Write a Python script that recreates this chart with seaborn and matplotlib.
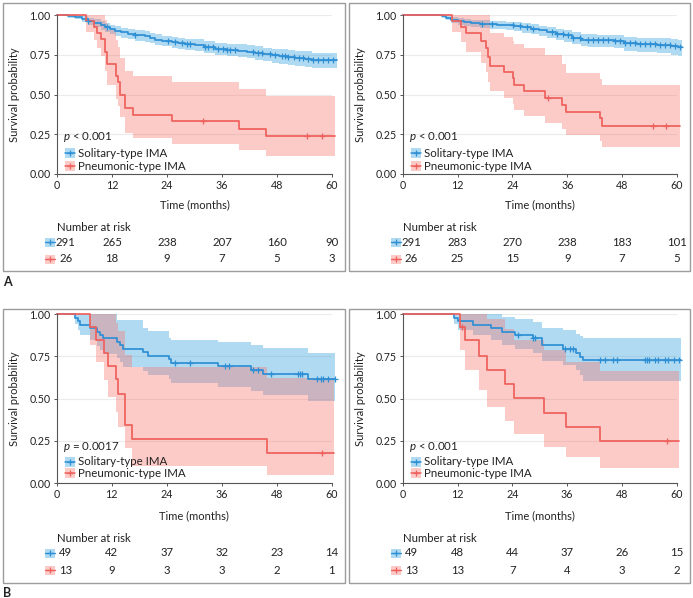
import numpy as np
import pandas as pd
import matplotlib
matplotlib.use("Agg")
import matplotlib.pyplot as plt
import seaborn as sns
from matplotlib.patches import Rectangle
from matplotlib.lines import Line2D
from matplotlib.transforms import blended_transform_factory

# ---------------- data ----------------
GROUPS = ["Solitary-type IMA", "Pneumonic-type IMA"]
RISK_TIMES = [0, 12, 24, 36, 48, 60]
X_TICKS = [0, 12, 24, 36, 48, 60]
Y_TICKS = [0.0, 0.25, 0.50, 0.75, 1.0]
Y_TICK_LABELS = ["0.00", "0.25", "0.50", "0.75", "1.00"]

# Panel A, left
A1_SOL_T = [0, 2.5, 4.0, 5.5, 6.8, 8.0, 9.5, 10.5, 11.5, 12.7, 14.0, 15.5, 17.0, 19.2, 20.3, 21.4, 23.0,
            25.0, 26.5, 28.0, 30.0, 32.0, 34.5, 37.0, 39.5, 41.5, 43.2, 45.0, 46.8, 48.5, 50.4, 52.0, 54.0, 55.6]
A1_SOL_S = [1.0, 0.993, 0.985, 0.975, 0.960, 0.950, 0.935, 0.923, 0.910, 0.897, 0.890, 0.880, 0.872, 0.866,
            0.855, 0.845, 0.838, 0.830, 0.822, 0.815, 0.810, 0.800, 0.788, 0.782, 0.776, 0.770, 0.761, 0.753,
            0.746, 0.740, 0.734, 0.730, 0.725, 0.715]
A1_SOL_HI = [1.0, 1.0, 0.998, 0.993, 0.982, 0.975, 0.962, 0.952, 0.940, 0.928, 0.921, 0.912, 0.904, 0.898,
             0.888, 0.878, 0.871, 0.864, 0.857, 0.851, 0.846, 0.837, 0.826, 0.820, 0.815, 0.810, 0.802, 0.795,
             0.789, 0.784, 0.779, 0.775, 0.771, 0.762]
A1_SOL_LO = [1.0, 0.984, 0.972, 0.957, 0.938, 0.925, 0.908, 0.894, 0.880, 0.866, 0.858, 0.848, 0.839, 0.833,
             0.821, 0.811, 0.803, 0.795, 0.786, 0.778, 0.773, 0.762, 0.749, 0.742, 0.735, 0.728, 0.718, 0.709,
             0.701, 0.694, 0.687, 0.682, 0.676, 0.664]
A1_SOL_CENS = [6.8, 10.8, 17.0, 24.3, 25.8, 27.2, 28.3, 29.0, 32.3, 33.0, 34.1, 35.2, 36.3, 37.0, 37.8, 38.9,
               42.8, 43.9, 44.7, 46.5, 47.6, 49.0, 49.8, 50.5, 51.6, 52.7, 53.7, 54.8, 55.9, 57.0, 58.1, 59.2, 60.3]
A1_SOL_END = 61.0
A1_PNE_T = [0, 6.3, 8.1, 8.7, 9.5, 10.5, 11.0, 12.8, 13.2, 13.8, 14.8, 16.5, 25.0, 39.8, 45.7]
A1_PNE_S = [1.0, 0.962, 0.923, 0.885, 0.846, 0.769, 0.692, 0.615, 0.577, 0.500, 0.415, 0.369, 0.331, 0.285, 0.237]
A1_PNE_HI = [1.0, 1.0, 1.0, 1.0, 1.0, 0.97, 0.905, 0.84, 0.80, 0.73, 0.65, 0.614, 0.577, 0.535, 0.489]
A1_PNE_LO = [1.0, 0.895, 0.84, 0.79, 0.74, 0.65, 0.56, 0.47, 0.43, 0.36, 0.26, 0.224, 0.189, 0.151, 0.115]
A1_PNE_CENS = [31.9, 54.5, 57.8]
A1_PNE_END = 60.6
A1_P = r"$p$ < 0.001"
A1_RISK_SOL = [291, 265, 238, 207, 160, 90]
A1_RISK_PNE = [26, 18, 9, 7, 5, 3]

# Panel A, right
A2_SOL_T = [0, 8.5, 9.5, 10.6, 12.0, 13.4, 15.0, 17.0, 19.0, 20.7, 22.5, 24.3, 26.0, 28.0, 29.8, 31.6, 33.5,
            35.2, 37.0, 38.9, 40.5, 42.6, 46.2, 48.4, 51.3, 55.7, 58.6, 60.3]
A2_SOL_S = [1.0, 0.993, 0.983, 0.971, 0.962, 0.956, 0.950, 0.945, 0.942, 0.939, 0.934, 0.929, 0.922, 0.914,
            0.904, 0.893, 0.882, 0.872, 0.858, 0.845, 0.843, 0.841, 0.839, 0.824, 0.818, 0.813, 0.803, 0.797]
A2_SOL_HI = [1.0, 0.998, 0.993, 0.985, 0.980, 0.976, 0.971, 0.967, 0.965, 0.963, 0.959, 0.955, 0.949, 0.942,
             0.933, 0.923, 0.913, 0.904, 0.891, 0.879, 0.878, 0.877, 0.876, 0.863, 0.858, 0.854, 0.846, 0.841]
A2_SOL_LO = [1.0, 0.983, 0.968, 0.951, 0.940, 0.932, 0.924, 0.918, 0.914, 0.910, 0.904, 0.898, 0.889, 0.879,
             0.868, 0.856, 0.844, 0.832, 0.817, 0.802, 0.799, 0.796, 0.793, 0.776, 0.768, 0.762, 0.750, 0.743]
A2_SOL_CENS = [17.3, 19.5, 24.2, 25.7, 27.1, 28.6, 32.6, 33.7, 35.1, 36.2, 37.3, 38.8, 40.6, 41.7, 42.8, 43.9,
               45.0, 46.4, 47.5, 48.6, 49.7, 50.8, 51.9, 53.0, 54.1, 55.2, 56.3, 57.4, 58.5, 59.6, 60.7]
A2_SOL_END = 61.0
A2_PNE_T = [0, 10.8, 12.7, 13.9, 17.1, 18.2, 18.6, 19.0, 22.2, 24.1, 24.4, 26.6, 31.2, 34.8, 35.7, 43.2, 43.6]
A2_PNE_S = [1.0, 0.962, 0.922, 0.884, 0.838, 0.790, 0.737, 0.680, 0.643, 0.601, 0.560, 0.522, 0.480, 0.434,
            0.388, 0.350, 0.304]
A2_PNE_HI = [1.0, 1.0, 1.0, 1.0, 1.0, 1.0, 1.0, 0.885, 0.86, 0.835, 0.815, 0.79, 0.75, 0.69, 0.635, 0.60, 0.557]
A2_PNE_LO = [1.0, 0.89, 0.83, 0.77, 0.70, 0.64, 0.58, 0.52, 0.48, 0.44, 0.405, 0.365, 0.32, 0.28, 0.245, 0.205, 0.17]
A2_PNE_CENS = [31.7, 54.7, 57.7]
A2_PNE_END = 60.6
A2_P = r"$p$ < 0.001"
A2_RISK_SOL = [291, 283, 270, 238, 183, 101]
A2_RISK_PNE = [26, 25, 15, 9, 7, 5]

# Panel B, left
B1_SOL_T = [0, 4.0, 4.6, 5.1, 7.3, 8.7, 9.5, 10.2, 13.1, 13.9, 14.5, 18.9, 20.0, 24.6, 25.0, 35.3, 42.5, 45.1, 54.9]
B1_SOL_S = [1.0, 0.980, 0.959, 0.939, 0.918, 0.898, 0.878, 0.857, 0.837, 0.816, 0.796, 0.776, 0.755, 0.735,
            0.714, 0.693, 0.671, 0.647, 0.615]
B1_SOL_HI = [1.0, 1.0, 1.0, 1.0, 1.0, 1.0, 1.0, 1.0, 0.966, 0.966, 0.966, 0.92, 0.90, 0.86, 0.848, 0.835,
             0.82, 0.80, 0.768]
B1_SOL_LO = [1.0, 0.94, 0.905, 0.875, 0.845, 0.815, 0.79, 0.765, 0.74, 0.715, 0.69, 0.665, 0.64, 0.617, 0.595,
             0.57, 0.545, 0.52, 0.485]
B1_SOL_CENS = [25.8, 29.1, 36.7, 37.7, 42.9, 44.0, 46.7, 52.7, 53.1, 53.5, 56.9, 57.6, 58.2, 59.3, 60.7]
B1_SOL_END = 60.7
B1_PNE_T = [0, 7.3, 8.5, 10.4, 11.1, 12.9, 13.4, 14.8, 16.5, 45.8]
B1_PNE_S = [1.0, 0.923, 0.846, 0.769, 0.692, 0.615, 0.527, 0.345, 0.262, 0.175]
B1_PNE_HI = [1.0, 1.0, 1.0, 1.0, 1.0, 0.95, 0.90, 0.76, 0.69, 0.62]
B1_PNE_LO = [1.0, 0.82, 0.72, 0.61, 0.51, 0.42, 0.33, 0.21, 0.10, 0.049]
B1_PNE_CENS = [57.8]
B1_PNE_END = 60.6
B1_P = r"$p$ = 0.0017"
B1_RISK_SOL = [49, 42, 37, 32, 23, 14]
B1_RISK_PNE = [13, 9, 3, 3, 2, 1]

# Panel B, right
B2_SOL_T = [0, 11.3, 12.2, 15.3, 19.4, 21.7, 24.6, 28.5, 30.5, 35.2, 38.0, 38.9, 39.5]
B2_SOL_S = [1.0, 0.980, 0.959, 0.939, 0.918, 0.898, 0.878, 0.857, 0.816, 0.796, 0.772, 0.748, 0.727]
B2_SOL_HI = [1.0, 1.0, 1.0, 1.0, 1.0, 0.985, 0.97, 0.955, 0.92, 0.905, 0.885, 0.87, 0.86]
B2_SOL_LO = [1.0, 0.94, 0.905, 0.875, 0.845, 0.82, 0.795, 0.77, 0.725, 0.70, 0.67, 0.64, 0.606]
B2_SOL_CENS = [25.3, 28.6, 29.0, 35.5, 36.6, 37.4, 43.2, 44.3, 46.1, 46.9, 53.1, 53.4, 54.0, 55.3, 56.0,
               57.4, 58.2, 59.3, 60.4]
B2_SOL_END = 61.0
B2_PNE_T = [0, 12.6, 13.7, 16.8, 18.5, 22.4, 24.4, 31.0, 35.7, 43.1]
B2_PNE_S = [1.0, 0.923, 0.846, 0.752, 0.668, 0.584, 0.501, 0.417, 0.334, 0.250]
B2_PNE_HI = [1.0, 1.0, 1.0, 1.0, 0.97, 0.91, 0.85, 0.79, 0.72, 0.666]
B2_PNE_LO = [1.0, 0.79, 0.67, 0.55, 0.45, 0.365, 0.29, 0.215, 0.152, 0.09]
B2_PNE_CENS = [12.9, 57.8]
B2_PNE_END = 60.6
B2_P = r"$p$ < 0.001"
B2_RISK_SOL = [49, 48, 44, 37, 26, 15]
B2_RISK_PNE = [13, 13, 7, 4, 3, 2]

# ---------------- style ----------------
sns.set_theme(style="white")
FONT = "Lato"
plt.rcParams["font.family"] = [FONT, "DejaVu Sans"]
plt.rcParams["mathtext.fontset"] = "custom"
plt.rcParams["mathtext.it"] = FONT + ":italic"
plt.rcParams["mathtext.rm"] = FONT

BLUE = "#2F8FD5"
RED = "#EF615C"
BLUE_BAND = "#2E9FDF"
RED_BAND = "#F8766D"
TXT = "#222222"
W, H = 693, 598
FS_TICK = 7.7
FS_LAB = 8.0
FS_LEG = 8.3
FS_RISK = 8.2


def fx(p):
    return p / W


def fy(p):
    return 1 - p / H


def curve(times, surv, end):
    return list(times) + [end], list(surv) + [surv[-1]]


def step_at(times, surv, t):
    idx = np.searchsorted(np.asarray(times), np.asarray(t), side="right") - 1
    return np.asarray(surv)[idx]


fig = plt.figure(figsize=(W / 100, H / 100), dpi=100)

panels = [
    dict(L=57, R=332, T=15, B=174, box=(3, 3, 345, 271), rows=(242, 259), nar=227, xl=205,
         sol=(A1_SOL_T, A1_SOL_S, A1_SOL_LO, A1_SOL_HI, A1_SOL_CENS, A1_SOL_END),
         pne=(A1_PNE_T, A1_PNE_S, A1_PNE_LO, A1_PNE_HI, A1_PNE_CENS, A1_PNE_END),
         p=A1_P, risk=(A1_RISK_SOL, A1_RISK_PNE), py=0.233, leg=(0.132, 0.05)),
    dict(L=402.7, R=677, T=15, B=174, box=(349, 3, 690, 271), rows=(242, 259), nar=227, xl=205,
         sol=(A2_SOL_T, A2_SOL_S, A2_SOL_LO, A2_SOL_HI, A2_SOL_CENS, A2_SOL_END),
         pne=(A2_PNE_T, A2_PNE_S, A2_PNE_LO, A2_PNE_HI, A2_PNE_CENS, A2_PNE_END),
         p=A2_P, risk=(A2_RISK_SOL, A2_RISK_PNE), py=0.233, leg=(0.132, 0.05)),
    dict(L=56.7, R=331.7, T=314.3, B=483, box=(3, 309, 345, 583), rows=(553, 570), nar=538, xl=516,
         sol=(B1_SOL_T, B1_SOL_S, B1_SOL_LO, B1_SOL_HI, B1_SOL_CENS, B1_SOL_END),
         pne=(B1_PNE_T, B1_PNE_S, B1_PNE_LO, B1_PNE_HI, B1_PNE_CENS, B1_PNE_END),
         p=B1_P, risk=(B1_RISK_SOL, B1_RISK_PNE), py=0.215, leg=(0.126, 0.057)),
    dict(L=402.7, R=676.7, T=314.3, B=483, box=(349, 309, 690, 583), rows=(553, 570), nar=538, xl=516,
         sol=(B2_SOL_T, B2_SOL_S, B2_SOL_LO, B2_SOL_HI, B2_SOL_CENS, B2_SOL_END),
         pne=(B2_PNE_T, B2_PNE_S, B2_PNE_LO, B2_PNE_HI, B2_PNE_CENS, B2_PNE_END),
         p=B2_P, risk=(B2_RISK_SOL, B2_RISK_PNE), py=0.215, leg=(0.126, 0.057)),
]

for pn in panels:
    bx0, by0, bx1, by1 = pn["box"]
    fig.add_artist(Rectangle((fx(bx0), fy(by1)), (bx1 - bx0) / W, (by1 - by0) / H,
                             transform=fig.transFigure, fill=False, ec="#9C9C9C", lw=1.0))
    ax = fig.add_axes([fx(pn["L"]), fy(pn["B"]), (pn["R"] - pn["L"]) / W, (pn["B"] - pn["T"]) / H])
    ax.set_facecolor("none")

    # long table for seaborn
    frames = []
    for g, spec in zip(GROUPS, (pn["sol"], pn["pne"])):
        xs, ys = curve(spec[0], spec[1], spec[5])
        frames.append(pd.DataFrame({"time": xs, "surv": ys, "group": g}))
    df = pd.concat(frames, ignore_index=True)

    # confidence bands (blue first, red on top)
    for spec, col in ((pn["sol"], BLUE_BAND), (pn["pne"], RED_BAND)):
        xs, lo = curve(spec[0], spec[2], spec[5])
        _, hi = curve(spec[0], spec[3], spec[5])
        ax.fill_between(xs, lo, hi, step="post", color=col, alpha=0.38, lw=0, clip_on=False)

    sns.lineplot(data=df, x="time", y="surv", hue="group", hue_order=GROUPS,
                 palette=[BLUE, RED], estimator=None, sort=False, drawstyle="steps-post",
                 lw=1.25, legend=False, ax=ax, clip_on=False)

    for spec, col in ((pn["sol"], BLUE), (pn["pne"], RED)):
        cy = step_at(spec[0], spec[1], spec[4])
        ax.plot(spec[4], cy, ls="none", marker="+", ms=4, mew=0.9, color=col, clip_on=False)

    ax.set_xlim(0, 60)
    ax.set_ylim(0, 1)
    ax.set_xticks(X_TICKS)
    ax.set_yticks(Y_TICKS)
    ax.set_yticklabels(Y_TICK_LABELS)
    ax.yaxis.grid(True, color="#EBEBEB", lw=0.8)
    ax.xaxis.grid(False)
    ax.set_axisbelow(True)
    for s in ("top", "right"):
        ax.spines[s].set_visible(False)
    for s in ("left", "bottom"):
        ax.spines[s].set_color("#555555")
        ax.spines[s].set_linewidth(0.8)
    ax.tick_params(axis="both", which="both", length=2.5, width=0.7, color="#555555",
                   labelsize=FS_TICK, labelcolor=TXT, pad=2)
    ax.tick_params(left=True, bottom=True)
    ax.set_xlabel("Time (months)", fontsize=FS_LAB, color=TXT)
    ax.set_ylabel("Survival probability", fontsize=FS_LAB, color=TXT)
    ax.xaxis.label.set_va("center")
    ax.yaxis.label.set_va("center")
    ax.xaxis.set_label_coords(0.5, (pn["B"] - pn["xl"]) / (pn["B"] - pn["T"]))
    ax.yaxis.set_label_coords(-42.0 / (pn["R"] - pn["L"]), 0.5)

    # p-value and legend
    ax.text(0.023, pn["py"], pn["p"], transform=ax.transAxes, va="center", ha="left",
            fontsize=FS_LEG, color=TXT)
    for (g, col, bcol), yy in zip(((GROUPS[0], BLUE, BLUE_BAND), (GROUPS[1], RED, RED_BAND)), pn["leg"]):
        ax.add_patch(Rectangle((0.029, yy - 0.03), 0.038, 0.06, transform=ax.transAxes,
                               fc=bcol, alpha=0.38, lw=0, clip_on=False))
        ax.add_line(Line2D([0.029, 0.067], [yy, yy], transform=ax.transAxes, color=col, lw=1.1,
                           clip_on=False))
        ax.add_line(Line2D([0.048], [yy], transform=ax.transAxes, color=col, marker="+", ms=4, mew=0.9,
                           clip_on=False))
        ax.text(0.076, yy, g, transform=ax.transAxes, va="center", ha="left", fontsize=FS_LEG, color=TXT)

    # number at risk table
    tr = blended_transform_factory(ax.transData, fig.transFigure)
    ax.text(0, fy(pn["nar"]), "Number at risk", transform=tr, ha="left", va="center",
            fontsize=FS_RISK, color=TXT)
    pos = [1.9] + RISK_TIMES[1:]
    for (vals, col, bcol), ry in zip(((pn["risk"][0], BLUE, BLUE_BAND), (pn["risk"][1], RED, RED_BAND)),
                                     pn["rows"]):
        kx = pn["L"] - 7
        fig.add_artist(Rectangle((fx(kx - 5), fy(ry + 4.5)), 10 / W, 9 / H, transform=fig.transFigure,
                                 fc=bcol, alpha=0.38, lw=0))
        fig.add_artist(Line2D([fx(kx - 5), fx(kx + 5)], [fy(ry), fy(ry)], transform=fig.transFigure,
                              color=col, lw=1.0))
        fig.add_artist(Line2D([fx(kx)], [fy(ry)], transform=fig.transFigure, color=col, marker="+",
                              ms=4, mew=0.9))
        for xv, v in zip(pos, vals):
            ax.text(xv, fy(ry), str(v), transform=tr, ha="center", va="center", fontsize=FS_RISK, color=TXT)

fig.text(fx(7), fy(282), "A", fontsize=9, fontweight="bold", ha="center", va="center", color=TXT)
fig.text(fx(7), fy(593), "B", fontsize=9, fontweight="bold", ha="center", va="center", color=TXT)

fig.savefig("out.png", dpi=100)
